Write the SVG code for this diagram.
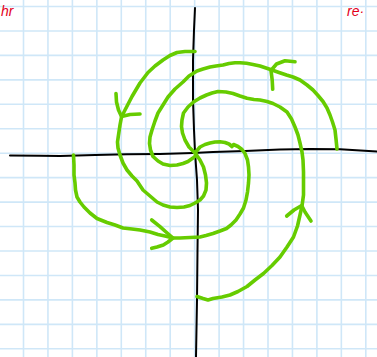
<svg xmlns="http://www.w3.org/2000/svg" width="377" height="357" viewBox="0 0 377 357">
<style>
.grid{stroke:#cfe7f8;stroke-width:1.6;fill:none}
.axis{stroke:#000;stroke-width:2;fill:none;stroke-linecap:round;stroke-linejoin:round}
.ink{stroke:#66cc00;stroke-width:3.6;fill:none;stroke-linecap:round;stroke-linejoin:round}
.note{fill:#e3001b;font-family:"Liberation Sans",Arial,sans-serif;font-style:italic;font-size:14px}
</style>
<rect width="377" height="357" fill="#ffffff"/>
<g id="grid" class="grid">
<path d="M23.5,0V357M47.95,0V357M72.4,0V357M96.85,0V357M121.3,0V357M145.75,0V357M170.2,0V357M194.65,0V357M219.1,0V357M243.55,0V357M268,0V357M292.45,0V357M316.9,0V357M341.35,0V357M365.8,0V357"/>
<path d="M0,6.5H377M0,30.95H377M0,55.4H377M0,79.85H377M0,104.3H377M0,128.75H377M0,153.2H377M0,177.65H377M0,202.1H377M0,226.55H377M0,251H377M0,275.45H377M0,299.9H377M0,324.35H377M0,348.8H377"/>
</g>
<g id="axes" class="axis">
<path d="M10,155.5 L40,155.8 L60,156 L95,155 L127,154.3 L160,154 L193,153 L213,152 L245,151 L280,149.5 L310,149 L340,149.2 L377,151.5"/>
<path d="M195,8 L194,30 L193,60 L193,100 L194,130 L195,152 L197,180 L198,210 L197.5,250 L197,300 L196,357"/>
</g>
<g id="connectors" class="ink">
<path id="curve1" d="M195,51.5 L185,51.5 L177,52.5 L170,55.5 L163,60 L155,66 L148,72.5 L140,83 L132,96.5 L125,110 L121.5,117 L120,125 L118.5,135 L117.5,142 L118,148 L120,155 L123,163 L127,170 L132,176 L137,181 L143,190 L150,196 L157,202 L163,205 L170,207 L177,207.5 L184,207 L190,205.5 L195,203 L200,200 L203.5,196 L206,190 L206.5,183 L205.5,175 L203.5,167 L200,160 L195,153"/>
<path id="curve2" d="M337,149 L336,139 L335,130 L332.5,122 L330,115 L327,108 L323,101.5 L318,95.5 L313,90 L307,85 L300,80 L293,77 L286.5,75 L279,72.5 L272,70 L266,68 L260,66 L253,64.5 L246.5,63.3 L240,62.7 L235,62.7 L229,63.5 L223,65 L216,66 L210,67 L203,69 L197,71 L189,76 L183,82 L175,89 L168,97 L163,105 L158,113 L155,121 L152,130 L150,137 L149.5,143.5 L150.5,150 L153,156.5 L158,161 L163,164 L170,165.5 L177,165 L183,163.5 L188,161.5 L193,158 L196.5,155"/>
<path id="curve3" d="M195,153 L189,147 L185,140 L182.5,133 L181.5,126.5 L182,120 L183.5,113 L188,107 L193.5,102 L200,98 L206.5,95 L212,93 L218,91.5 L226,92 L233,93.5 L240,96 L247,98.3 L254,99.5 L260,100 L267,101.5 L273,103.5 L280,107 L287,112 L291.5,119 L295,127 L298,135 L300,143 L302,152 L303,160 L303.5,172 L303.5,183 L303.5,195 L302,206 L300,215 L297.5,226 L293.5,237 L287,247 L280,257 L272,265.5 L263.5,273.5 L255,280 L247,286.5 L238,291.5 L230,295 L222,297 L213,298.5 L208,300 L203,298.5 L197,296.5"/>
<path id="curve4" d="M195,153 L200,147 L205,144.5 L210,143 L215,142 L220,141.7 L225,142.5 L229,144 L232,146.5 L233.5,144.5 L238,146.5 L242,149.5 L245,153.5 L247.5,160 L248.5,167 L249,175 L248.5,183 L247.5,192 L246,200 L243.5,208 L240,214 L236,220 L231,225 L226.5,228.5 L220,231 L213,233.5 L206,235.5 L200,237 L190,237.5 L180,238 L173,238 L165,236 L158,234.5 L150,232 L140,230 L132,229 L123,228 L115,225 L107,222.5 L97,218.5 L90,213 L84,207 L80,202 L77,197 L75.5,190 L75,183 L74,175 L74,165 L73.5,155"/>
<path id="arrow1" d="M116,93.5 L116.5,102 L118.5,110 L121.5,116.5 M121.5,116.5 L130,114.5 L140,114"/>
<path id="arrow2" d="M272.7,89.3 L272.2,80 L271,70.5 M271,70.5 L276.5,64 L285,60.7 L295,61.7"/>
<path id="arrow3" d="M286.7,216 L294,210 L301.7,205.5 M301.7,205.5 L305,212 L311,221"/>
<path id="arrow4" d="M151.7,220 L160,226.7 L166,232 L173,238 M173,238 L168,242 L163.3,245 L157,247 L151.7,248.3"/>
</g>
<g id="notes">
<text class="note" x="1" y="16">hr</text>
<text class="note" x="347" y="16">re·</text>
</g>
</svg>
